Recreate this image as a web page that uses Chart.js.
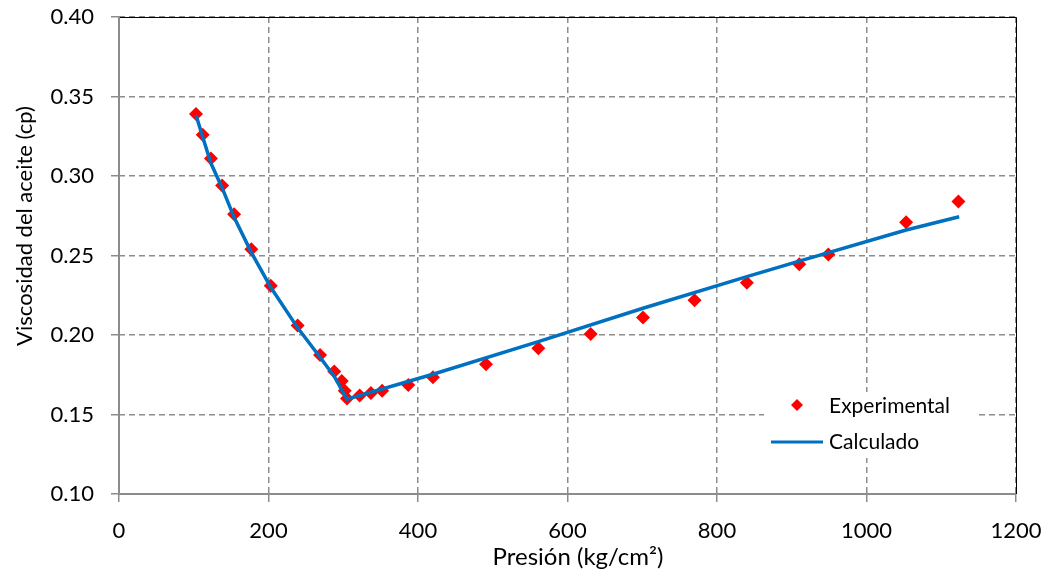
<!DOCTYPE html>
<html>
<head>
<meta charset="utf-8">
<script src="https://cdn.jsdelivr.net/npm/chart.js@4.4.1/dist/chart.umd.min.js"></script>
<style>
    html, body { margin: 0; padding: 0; background: #fff; }
    #wrap { width: 1050px; height: 582px; }
</style>
</head>
<body>
<div id="wrap"><canvas id="myChart"></canvas></div>
<script>
// datos experimentales
var presionExp = [103, 112, 123, 138, 154, 177, 203, 239, 269, 288, 298, 302, 305, 322, 337, 352, 387, 420, 491, 561, 631, 701, 770, 840, 910, 949, 1053, 1123];
var viscExp = [0.339, 0.326, 0.311, 0.294, 0.276, 0.254, 0.231, 0.206, 0.1875, 0.177, 0.171, 0.165, 0.160, 0.162, 0.1635, 0.165, 0.1685, 0.1734, 0.1816, 0.1916, 0.2006, 0.211, 0.2218, 0.2329, 0.2445, 0.2507, 0.2709, 0.2839];

// curva calculada
var presionCalc = [103, 112, 123, 138, 154, 177, 203, 239, 269, 288, 305, 420, 561, 701, 840, 910, 1053, 1124];
var viscCalc = [0.3384, 0.3245, 0.308, 0.2925, 0.274, 0.252, 0.230, 0.2045, 0.186, 0.174, 0.1597, 0.1753, 0.1958, 0.2168, 0.2367, 0.2465, 0.266, 0.2744];

var yTicks = [0.10, 0.15, 0.20, 0.25, 0.30, 0.35, 0.40];
var tituloX = 'Presión (kg/cm²)';
var tituloY = 'Viscosidad del aceite (cp)';

var toXY = (xs, ys) => xs.map((x, i) => ({ x: x, y: ys[i] }));

var fuente = 'Lato, "Open Sans", sans-serif';
var gris = '#8c8c8c';

// bordes, titulos de ejes y leyenda dentro del area del grafico
var extras = {
    id: 'extras',
    afterDatasetsDraw(chart) {
        var c = chart.ctx;
        var a = chart.chartArea;
        c.save();
        c.strokeStyle = '#000';
        c.lineWidth = 1;
        c.beginPath();
        c.moveTo(a.left, a.top + 0.5);
        c.lineTo(a.right + 0.5, a.top + 0.5);
        c.lineTo(a.right + 0.5, a.bottom);
        c.stroke();
        c.strokeStyle = gris;
        c.lineWidth = 2;
        c.beginPath();
        c.moveTo(a.left, a.top);
        c.lineTo(a.left, a.bottom);
        c.lineTo(a.right, a.bottom);
        c.stroke();

        // titulos
        c.fillStyle = '#000';
        c.textAlign = 'center';
        c.textBaseline = 'middle';
        c.font = '24px ' + fuente;
        c.fillText(tituloX, 578, 557);
        c.save();
        c.translate(25, 226);
        c.rotate(-Math.PI / 2);
        c.font = '22px ' + fuente;
        c.fillText(tituloY, 0, 0);
        c.restore();

        // leyenda
        var ds = chart.data.datasets;
        c.textAlign = 'left';
        c.fillStyle = '#fff';
        c.fillRect(764, 392, 212, 66);
        c.fillStyle = ds[0].backgroundColor;
        c.beginPath();
        c.moveTo(797, 399); c.lineTo(803, 405); c.lineTo(797, 411); c.lineTo(791, 405);
        c.closePath();
        c.fill();
        c.strokeStyle = ds[1].borderColor;
        c.lineWidth = 3;
        c.beginPath();
        c.moveTo(771, 442); c.lineTo(823, 442);
        c.stroke();
        c.fillStyle = '#000';
        c.font = '21px ' + fuente;
        c.fillText(ds[0].label, 829, 406);
        c.fillText(ds[1].label, 829, 442);
        c.restore();
    }
};

var ctx = document.getElementById('myChart').getContext('2d');
var myChart = new Chart(ctx, {
    type: 'scatter',
    data: {
        datasets: [{
            label: 'Experimental',
            data: toXY(presionExp, viscExp),
            backgroundColor: '#ff0000',
            borderColor: '#ff0000',
            pointStyle: 'rectRot',
            pointRadius: 7,
            borderWidth: 0,
            showLine: false,
            order: 1
        }, {
            label: 'Calculado',
            data: toXY(presionCalc, viscCalc),
            borderColor: '#0070c0',
            backgroundColor: '#0070c0',
            borderWidth: 3.5,
            pointRadius: 0,
            showLine: true,
            tension: 0,
            order: 0
        }]
    },
    options: {
        responsive: true,
        maintainAspectRatio: false,
        animation: false,
        layout: { padding: { top: 17, right: 34, left: 0, bottom: 0 } },
        plugins: {
            legend: { display: false },
            tooltip: { enabled: false }
        },
        scales: {
            x: {
                type: 'linear',
                min: 0,
                max: 1200,
                border: { display: false, dash: [6, 4] },
                grid: {
                    color: gris,
                    lineWidth: 1.5,
                    tickLength: 8,
                    tickColor: gris,
                    tickBorderDash: [],
                },
                ticks: {
                    stepSize: 200,
                    color: '#000',
                    padding: 16,
                    font: { family: fuente, size: 22 },
                    callback: (v) => String(v)
                },
                afterFit: (s) => { s.height = 88; s.paddingLeft = 0; s.paddingRight = 0; }
            },
            y: {
                min: 0.10,
                max: 0.40,
                border: { display: false, dash: [6, 4] },
                grid: {
                    color: gris,
                    lineWidth: 1.5,
                    tickLength: 8,
                    tickColor: gris,
                    tickBorderDash: [],
                },
                afterBuildTicks: (s) => { s.ticks = yTicks.map(v => ({ value: v })); },
                ticks: {
                    color: '#000',
                    padding: 17,
                    font: { family: fuente, size: 22 },
                    callback: (v) => v.toFixed(2)
                },
                afterFit: (s) => { s.width = 119; s.paddingTop = 0; s.paddingBottom = 0; }
            }
        }
    },
    plugins: [extras]
});
</script>
</body>
</html>
